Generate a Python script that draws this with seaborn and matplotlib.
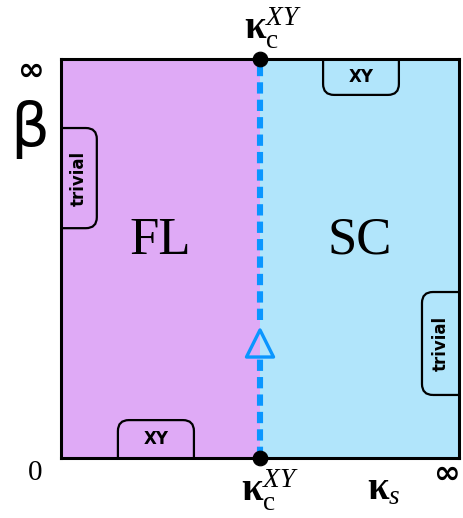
import numpy as np
import seaborn as sns
import matplotlib.pyplot as plt
from matplotlib.patches import FancyBboxPatch

# phase regions (x in units of kappa_s, 0..2 = 0..inf ; y = beta, 0..1 = 0..inf)
phases = ['FL', 'SC']
phase_xmin = [0.0, 1.0]
phase_xmax = [1.0, 2.0]
phase_label_x = [0.5, 1.5]
phase_label_y = [0.545, 0.545]
phase_colors = ['#dfaaf6', '#b1e5fb']

# critical line kappa_c^XY (two pieces, broken around the triangle)
crit_x = [1.0, 1.0, 1.0, 1.0]
crit_y = [0.0, 0.248, 0.345, 1.0]
crit_seg = [0, 0, 1, 1]
end_x = [1.0, 1.0]
end_y = [0.0, 1.0]
tri_x = [1.0]
tri_y = [0.287]

# small corner regions: label, x0, x1, y0, y1, rotation, side
tabs = [
    ('trivial', 0.0, 0.18, 0.576, 0.827, 90, 0),
    ('XY', 1.317, 1.698, 0.91, 1.0, 0, 1),
    ('XY', 0.286, 0.668, 0.0, 0.095, 0, 0),
    ('trivial', 1.814, 2.0, 0.158, 0.416, 90, 1),
]

sns.set_theme(style="white")
plt.rcParams['mathtext.fontset'] = 'custom'
plt.rcParams['mathtext.rm'] = 'Liberation Serif'
plt.rcParams['mathtext.it'] = 'Liberation Serif:italic'
plt.rcParams['mathtext.bf'] = 'Liberation Serif:bold'
plt.rcParams['text.color'] = 'black'

fig = plt.figure(figsize=(4.63, 5.18), dpi=100)
ax = fig.add_axes([61/463, 60/518, 398/463, 399/518])

for xmin, xmax, c in zip(phase_xmin, phase_xmax, phase_colors):
    ax.fill_between([xmin, xmax], 0, 1, color=c, lw=0, zorder=0)

# tabs
aspect = 199 / 399
for lab, x0, x1, y0, y1, rot, side in tabs:
    pad = 0.05
    if rot == 90:
        bx0 = x0 - pad if side == 0 else x0
        bx1 = x1 if side == 0 else x1 + pad
        by0, by1 = y0, y1
    else:
        bx0, bx1 = x0, x1
        by0 = y0 - pad if side == 0 else y0
        by1 = y1 if side == 0 else y1 + pad
    p = FancyBboxPatch((bx0, by0), bx1 - bx0, by1 - by0,
                       boxstyle="round,pad=0,rounding_size=0.055",
                       mutation_aspect=aspect, fc='none', ec='black', lw=1.6,
                       zorder=2, clip_on=True)
    ax.add_patch(p)
    ax.text((x0 + x1) / 2, (y0 + y1) / 2, lab, rotation=rot, ha='center', va='center',
            fontsize=12, fontweight='bold', family='DejaVu Sans', color='black', zorder=3)

sns.lineplot(x=crit_x, y=crit_y, units=crit_seg, ax=ax, color='#0a96ff', lw=4.4,
             estimator=None, sort=False, zorder=3)
for ln in ax.lines:
    ln.set_dashes([1.85, 1.0])
    ln.set_dash_capstyle('butt')
sns.scatterplot(x=tri_x, y=tri_y, ax=ax, marker='^', s=380, facecolor='none',
                edgecolor='#0a96ff', linewidth=2.4, zorder=4)
sns.scatterplot(x=end_x, y=end_y, ax=ax, color='black', s=110, edgecolor='black',
                zorder=5, clip_on=False)

for lab, x, y in zip(phases, phase_label_x, phase_label_y):
    ax.text(x, y, lab, ha='center', va='center', fontsize=38, family='Liberation Serif',
            color='black')

ax.set_xlim(0, 2)
ax.set_ylim(0, 1)
ax.set_xticks([])
ax.set_yticks([])
for s in ax.spines.values():
    s.set_linewidth(2.2)
    s.set_color('black')
    s.set_zorder(6)

# axis annotations
fig.text(30/463, 1 - 71/518, '\u221e', fontsize=23, fontweight='bold', family='DejaVu Sans',
         ha='center', va='center')
fig.text(30/463, 1 - 130/518, '\u03b2', fontsize=44, family='DejaVu Sans', ha='center', va='center')
fig.text(35/463, 1 - 473/518, '0', fontsize=21, family='Liberation Serif', ha='center', va='center')
fig.text(273/463, 1 - 27/518, r'$\mathbf{\kappa}_{\mathrm{c}}^{XY}$', fontsize=28, ha='center', va='center')
fig.text(270/463, 1 - 490/518, r'$\mathbf{\kappa}_{\mathrm{c}}^{XY}$', fontsize=28, ha='center', va='center')
fig.text(384/463, 1 - 488/518, r'$\mathbf{\kappa}_{s}$', fontsize=28, ha='center', va='center')
fig.text(446/463, 1 - 474/518, '\u221e', fontsize=23, fontweight='bold', family='DejaVu Sans',
         ha='center', va='center')

plt.savefig('out.png', dpi=100)
